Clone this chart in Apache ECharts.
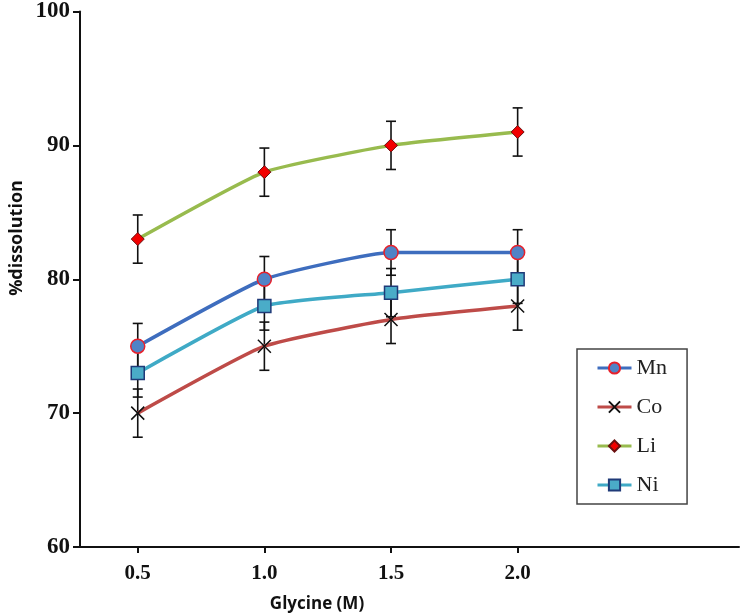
<!DOCTYPE html>
<html>
<head>
<meta charset="utf-8">
<script src="https://cdn.jsdelivr.net/npm/echarts@6/dist/echarts.min.js"></script>
<style>
html,body{margin:0;padding:0;background:#fff;}
#main{width:740px;height:615px;}
</style>
</head>
<body>
<div id="main"></div>
<script>
var xVals=[0.5,1.0,1.5,2.0];
var xLabels=['0.5','1.0','1.5','2.0'];
var mnData=[75,80,82,82];
var coData=[70,75,77,78];
var liData=[83,88,90,91];
var niData=[73,78,79,80];
var mnErr=[1.7,1.7,1.7,1.7];
var coErr=[1.8,1.8,1.8,1.8];
var liErr=[1.8,1.8,1.8,1.8];
var niErr=[1.8,1.8,1.8,1.8];

var serif="'Liberation Serif','Times New Roman',Times,serif";

function pts(v){
	var a=[];
	for(var i=0;i<xVals.length;i++){a.push([xVals[i],v[i]]);}
	return a;
}
function errPts(v,e){
	var a=[];
	for(var i=0;i<xVals.length;i++){a.push([xVals[i],v[i]-e[i],v[i]+e[i]]);}
	return a;
}
function errSeries(v,e){
	return {
		type:'custom',
		z:1,
		silent:true,
		data:errPts(v,e),
		encode:{x:0,y:[1,2]},
		renderItem:function(params,api){
			var lo=api.coord([api.value(0),api.value(1)]);
			var hi=api.coord([api.value(0),api.value(2)]);
			var w=5;
			var st={stroke:'#111',lineWidth:1.6};
			return {type:'group',children:[
				{type:'line',shape:{x1:lo[0],y1:lo[1],x2:hi[0],y2:hi[1]},style:st},
				{type:'line',shape:{x1:lo[0]-w,y1:lo[1],x2:lo[0]+w,y2:lo[1]},style:st},
				{type:'line',shape:{x1:hi[0]-w,y1:hi[1],x2:hi[0]+w,y2:hi[1]},style:st}
			]};
		}
	};
}

var myChart=echarts.init(document.getElementById('main'));
var option={
	animation:false,
	backgroundColor:'#fff',
	grid:{left:80,top:10,right:1,bottom:68},
	legend:{
		orient:'vertical',
		left:577,
		top:349,
		padding:[8,20,8,19],
		itemGap:17,
		itemWidth:34,
		itemHeight:14,
		borderColor:'#444',
		borderWidth:1.5,
		lineStyle:{width:3},
		textStyle:{fontFamily:serif,fontSize:22,color:'#222'},
		data:['Mn','Co','Li','Ni']
	},
	xAxis:{
		type:'value',
		min:0.272,
		max:2.874,
		splitLine:{show:false},
		axisLine:{lineStyle:{color:'#111',width:2}},
		axisTick:{length:6,lineStyle:{color:'#111',width:2},customValues:xVals},
		axisLabel:{customValues:xVals,margin:16,fontFamily:serif,fontWeight:'bold',fontSize:21,color:'#111',
			formatter:function(v){return xLabels[xVals.indexOf(v)]||'';}}
	},
	yAxis:{
		type:'value',
		min:60,
		max:100,
		interval:10,
		splitLine:{show:false},
		axisLine:{show:true,lineStyle:{color:'#111',width:2}},
		axisTick:{show:true,length:7,lineStyle:{color:'#111',width:2}},
		axisLabel:{margin:10,fontFamily:serif,fontWeight:'bold',fontSize:23,color:'#111'}
	},
	graphic:[
		{type:'text',x:317,y:604,style:{text:'Glycine (M)',align:'center',verticalAlign:'middle',fontFamily:'Open Sans',fontWeight:'bold',fontSize:17,fill:'#111'}},
		{type:'text',x:17,y:238,rotation:Math.PI/2,style:{text:'%dissolution',align:'center',verticalAlign:'middle',fontFamily:'Open Sans',fontWeight:'bold',fontSize:18,fill:'#111'}}
	],
	series:[
		errSeries(mnData,mnErr),
		errSeries(coData,coErr),
		errSeries(liData,liErr),
		errSeries(niData,niErr),
		{
			name:'Mn',type:'line',smooth:0.15,z:3,data:pts(mnData),
			symbol:'circle',symbolSize:14,
			lineStyle:{color:'#3E6DBE',width:3.5},
			itemStyle:{color:'#5083C6',borderColor:'#E8202A',borderWidth:1.5}
		},
		{
			name:'Co',type:'line',smooth:0.15,z:3,data:pts(coData),
			symbol:'path://M0,0L10,10M10,0L0,10',symbolSize:13,
			lineStyle:{color:'#BE4B48',width:3.5},
			itemStyle:{color:'#111',borderColor:'#111',borderWidth:1.5}
		},
		{
			name:'Li',type:'line',smooth:0.15,z:3,data:pts(liData),
			symbol:'diamond',symbolSize:13,
			lineStyle:{color:'#98BB4E',width:3.5},
			itemStyle:{color:'#F20000',borderColor:'#6B1010',borderWidth:1}
		},
		{
			name:'Ni',type:'line',smooth:0.15,z:3,data:pts(niData),
			symbol:'rect',symbolSize:13,
			lineStyle:{color:'#3FAAC6',width:3.5},
			itemStyle:{color:'#4AACC8',borderColor:'#1F3A78',borderWidth:1.5}
		}
	]
};
myChart.setOption(option);
</script>
</body>
</html>
